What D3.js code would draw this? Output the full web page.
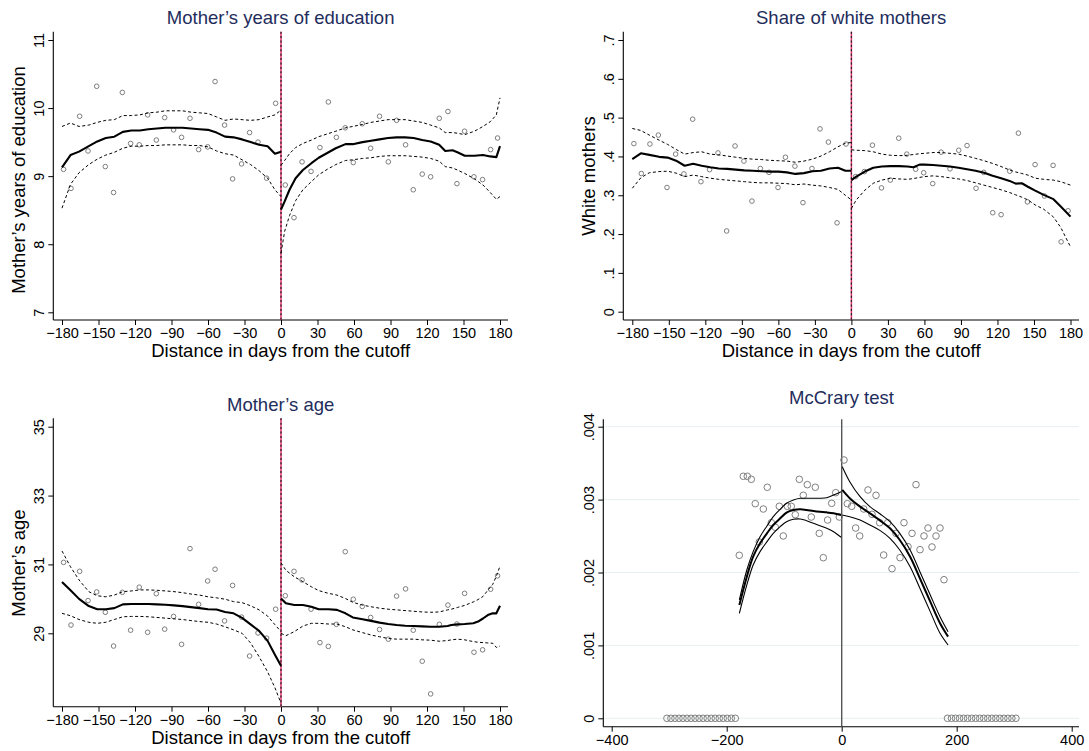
<!DOCTYPE html>
<html><head><meta charset="utf-8">
<script src="https://cdn.jsdelivr.net/npm/d3@7/dist/d3.min.js"></script>
<style>
body{margin:0;background:#fff}
svg{display:block}
text{font-family:"Liberation Sans",Arial,Helvetica,sans-serif}
</style>
</head><body>
<svg id="c" width="1089" height="751"></svg>
<script>
// ---------------- DATA ----------------
const xTicks = [-180,-150,-120,-90,-60,-30,0,30,60,90,120,150,180];
const xTickLabels = ["\u2212180","\u2212150","\u2212120","\u221290","\u221260","\u221230","0","30","60","90","120","150","180"];

const binXL = [-178.7,-172.6,-165.5,-158.6,-151.5,-144.4,-137.6,-130.4,-123.6,-116.5,-109.6,-102.5,-95.6,-88.3,-81.7,-74.8,-67.7,-60.3,-54.2,-46.4,-39.8,-32.4,-25.8,-18.9,-11.8,-4.4];
const binXR = [3.5,10.7,17.3,24.7,32.0,38.9,45.5,52.8,59.4,66.8,73.7,81.0,88.2,95.0,102.4,108.7,116.1,123.0,130.1,137.2,144.6,150.9,158.6,165.7,172.3,178.0];

// Panel 1: mother's years of education
const eduL = [9.10,8.82,9.88,9.37,10.32,9.14,8.76,10.23,9.48,9.46,9.90,9.53,9.86,9.68,9.57,9.85,9.39,9.43,10.39,9.75,8.96,9.18,9.64,9.50,8.97,10.07];
const eduR = [8.87,8.39,9.21,9.07,9.42,10.09,9.57,9.71,9.20,9.77,9.41,9.88,9.21,9.82,9.46,8.80,9.03,8.99,9.85,9.95,8.89,9.66,8.99,8.95,9.39,9.56];
const fitXL = [-180,-173,-166,-158,-151,-144,-137,-130,-123,-116,-109,-102,-95,-88,-81,-74,-67,-60,-53,-46,-39,-32,-25,-18,-11,-5,0];
const eduFitL = [9.13,9.31,9.36,9.44,9.51,9.56,9.58,9.65,9.67,9.67,9.69,9.70,9.71,9.71,9.71,9.70,9.69,9.68,9.64,9.58,9.57,9.54,9.50,9.46,9.44,9.33,9.36];
const eduHiL  = [9.73,9.78,9.73,9.75,9.79,9.82,9.83,9.89,9.89,9.90,9.93,9.94,9.96,9.96,9.96,9.94,9.93,9.92,9.87,9.82,9.84,9.83,9.82,9.83,9.87,9.90,9.97];
const eduLoL  = [8.53,8.88,9.05,9.17,9.25,9.31,9.35,9.41,9.44,9.44,9.45,9.45,9.46,9.46,9.46,9.45,9.45,9.43,9.37,9.33,9.31,9.24,9.17,9.08,8.97,8.80,8.70];
const eduXR = [0,3,7,12,18,25,31,38,45,53,59,67,74,81,88,95,102,109,116,123,130,135,141,145,151,159,166,172,177,180];
const eduFitR = [8.51,8.63,8.80,8.97,9.09,9.19,9.27,9.34,9.41,9.47,9.47,9.50,9.52,9.54,9.56,9.57,9.57,9.56,9.53,9.51,9.46,9.37,9.38,9.35,9.30,9.30,9.31,9.29,9.28,9.44];
const eduHiR  = [9.16,9.23,9.33,9.42,9.48,9.53,9.58,9.62,9.66,9.71,9.73,9.76,9.79,9.81,9.83,9.83,9.83,9.81,9.79,9.75,9.71,9.64,9.64,9.63,9.61,9.66,9.73,9.80,9.90,10.15];
const eduLoR  = [7.87,8.19,8.42,8.64,8.80,8.92,9.02,9.10,9.17,9.23,9.24,9.26,9.27,9.29,9.30,9.30,9.30,9.29,9.28,9.26,9.22,9.14,9.12,9.09,9.04,8.96,8.87,8.76,8.66,8.70];
const eduYTicks = [7,8,9,10,11];
const eduYLabels = ["7","8","9","10","11"];

// Panel 2: share of white mothers
const whiteL = [0.433,0.356,0.432,0.455,0.320,0.406,0.355,0.496,0.335,0.366,0.409,0.208,0.427,0.388,0.285,0.369,0.359,0.320,0.398,0.375,0.281,0.369,0.471,0.437,0.229,0.432];
const whiteR = [0.348,0.361,0.429,0.319,0.339,0.447,0.406,0.367,0.358,0.330,0.411,0.368,0.416,0.428,0.318,0.359,0.255,0.250,0.362,0.460,0.283,0.379,0.298,0.377,0.180,0.260];
const whiteFitL = [0.393,0.408,0.404,0.399,0.397,0.389,0.376,0.381,0.376,0.372,0.369,0.368,0.366,0.364,0.363,0.362,0.361,0.361,0.359,0.355,0.357,0.362,0.363,0.369,0.371,0.363,0.363];
const whiteHiL  = [0.472,0.467,0.455,0.442,0.431,0.418,0.406,0.410,0.412,0.406,0.404,0.401,0.398,0.395,0.393,0.392,0.390,0.389,0.388,0.385,0.388,0.393,0.401,0.412,0.425,0.434,0.436];
const whiteLoL  = [0.318,0.345,0.358,0.361,0.362,0.357,0.348,0.352,0.348,0.344,0.341,0.339,0.337,0.335,0.333,0.332,0.332,0.331,0.330,0.327,0.329,0.326,0.324,0.320,0.315,0.300,0.288];
const whiteXR = [0,4,11,18,25,32,39,46,51,56,60,67,74,81,88,95,102,109,116,123,130,135,140,145,151,158,166,172,180];
const whiteFitR = [0.339,0.348,0.361,0.371,0.374,0.375,0.375,0.374,0.372,0.379,0.379,0.378,0.376,0.374,0.371,0.367,0.363,0.358,0.350,0.344,0.337,0.330,0.331,0.322,0.312,0.301,0.290,0.271,0.245];
const whiteHiR  = [0.417,0.416,0.415,0.412,0.406,0.403,0.402,0.403,0.405,0.407,0.408,0.410,0.410,0.408,0.406,0.401,0.395,0.389,0.382,0.374,0.365,0.360,0.356,0.352,0.344,0.341,0.339,0.335,0.326];
const whiteLoR  = [0.266,0.288,0.313,0.331,0.339,0.344,0.342,0.341,0.343,0.346,0.348,0.350,0.348,0.345,0.342,0.338,0.332,0.326,0.320,0.314,0.307,0.301,0.295,0.288,0.275,0.264,0.244,0.217,0.167];
const whiteYTicks = [0,0.1,0.2,0.3,0.4,0.5,0.6,0.7];
const whiteYLabels = ["0",".1",".2",".3",".4",".5",".6",".7"];

// Panel 3: mother's age
const ageL = [31.06,29.24,30.80,29.95,30.20,29.61,28.63,30.19,29.09,30.34,29.03,30.15,29.12,29.49,28.68,31.46,29.84,30.52,30.86,29.36,30.39,29.47,28.34,29.01,28.86,29.70];
const ageR = [30.09,30.80,30.55,29.70,28.73,28.62,29.26,31.37,29.99,29.78,29.46,29.11,28.83,30.08,30.29,29.09,28.19,27.24,29.26,29.82,29.27,30.16,28.45,28.52,30.28,30.67];
const ageFitL = [30.49,30.25,30.00,29.79,29.70,29.70,29.73,29.84,29.85,29.85,29.85,29.84,29.83,29.81,29.79,29.76,29.73,29.70,29.69,29.62,29.58,29.45,29.26,29.07,28.78,28.38,28.06];
const ageHiL  = [31.39,30.93,30.55,30.21,30.09,30.06,30.11,30.21,30.23,30.26,30.26,30.25,30.23,30.21,30.18,30.14,30.11,30.06,30.03,29.99,29.92,29.89,29.80,29.68,29.50,29.25,29.05];
const ageLoL  = [29.58,29.51,29.40,29.32,29.29,29.32,29.40,29.48,29.49,29.49,29.48,29.46,29.44,29.42,29.40,29.37,29.34,29.32,29.27,29.19,29.10,29.00,28.72,28.32,27.88,27.42,26.97];
const ageXR = [0,4,11,18,25,31,39,46,53,59,67,74,81,88,95,102,109,116,123,130,137,140,145,151,158,162,166,170,174,177,180];
const ageFitR = [30.01,29.87,29.82,29.82,29.77,29.70,29.70,29.68,29.58,29.46,29.41,29.36,29.31,29.27,29.24,29.22,29.21,29.20,29.19,29.19,29.21,29.24,29.26,29.27,29.29,29.34,29.43,29.53,29.58,29.58,29.80];
const ageHiR  = [31.05,30.83,30.64,30.50,30.35,30.24,30.16,30.11,30.01,29.90,29.82,29.77,29.73,29.70,29.68,29.66,29.64,29.62,29.61,29.62,29.68,29.70,29.75,29.81,29.91,29.98,30.07,30.25,30.42,30.66,30.95];
const ageLoR  = [29.00,28.93,29.05,29.21,29.29,29.29,29.27,29.27,29.19,29.10,29.02,28.95,28.90,28.85,28.83,28.83,28.83,28.81,28.80,28.77,28.79,28.81,28.83,28.81,28.76,28.74,28.73,28.72,28.71,28.59,28.63];
const ageYTicks = [29,31,33,35];
const ageYLabels = ["29","31","33","35"];

// Panel 4: McCrary density test (density values in thousandths)
const mcBinL = [-178.1,-171.1,-164.2,-157.2,-150.3,-143.3,-136.3,-129.4,-122.4,-115.5,-108.5,-101.6,-94.6,-87.7,-80.7,-73.7,-66.8,-59.8,-52.9,-45.9,-39.0,-32.0,-24.5,-17.4,-10.4,-4.2];
const mcDenL = [2.236,3.320,3.320,3.278,2.944,2.418,2.871,3.169,2.683,2.620,2.908,2.501,2.908,2.908,2.793,3.278,3.059,3.205,2.761,3.169,2.537,2.203,2.720,2.949,3.095,2.761];
const mcBinR = [4.0,9.8,17.4,24.3,31.3,38.3,45.7,52.7,59.7,66.1,73.0,80.0,87.5,94.4,101.4,108.3,115.3,122.3,129.2,136.2,143.1,150.1,157.0,164.0,170.9,177.9];
const mcDenR = [3.543,2.944,2.908,2.610,2.501,2.871,3.132,2.798,3.059,2.683,2.240,2.683,2.052,2.537,2.203,2.683,2.354,2.537,3.205,2.313,2.501,2.610,2.350,2.501,2.610,1.901];
const mcZeroX = [-304,-297,-290,-283,-276,-269,-262,-255,-248,-241,-234,-227,-220,-213,-206,-199,-192,-185,
                 184,191,198,205,212,219,226,233,240,247,254,261,268,275,282,289,296,303];
const mcXL = [-178,-165,-154,-142,-130,-119,-107,-96,-84,-72,-61,-49,-38,-26,-14,-1];
const mcFitL = [1.554,1.943,2.217,2.400,2.537,2.652,2.743,2.821,2.857,2.867,2.857,2.844,2.834,2.825,2.812,2.789];
const mcHiL  = [1.623,2.034,2.286,2.491,2.638,2.766,2.867,2.949,2.995,3.018,3.018,3.018,3.018,3.026,3.063,3.109];
const mcLoL  = [1.440,1.829,2.103,2.286,2.423,2.537,2.629,2.697,2.730,2.734,2.711,2.675,2.642,2.606,2.560,2.483];
const mcXR = [1,14,32,49,67,84,101,119,136,154,171,185];
const mcFitR = [3.132,3.018,2.903,2.812,2.711,2.606,2.446,2.217,1.920,1.600,1.303,1.120];
const mcHiR  = [3.451,3.246,3.040,2.903,2.803,2.697,2.537,2.309,2.011,1.691,1.394,1.188];
const mcLoR  = [2.789,2.766,2.720,2.652,2.574,2.469,2.309,2.080,1.783,1.463,1.166,1.006];
const mcXTicks = [-400,-200,0,200,400];
const mcXLabels = ["\u2212400","\u2212200","0","200","400"];
const mcYTicks = [0,1,2,3,4];
const mcYLabels = ["0",".001",".002",".003",".004"];

// ---------------- DRAWING ----------------
const svg = d3.select("#c");
const TITLE_COL = "#1e2d5c";
const TICK_FS = "14.5px", TITLE_FS = "18.5px";

function series(g, x, y, xs, ys, opts) {
  const line = d3.line().x((d,i)=>x(xs[i])).y(d=>y(d)).curve(opts.curve || d3.curveLinear);
  g.append("path").attr("d", line(ys)).attr("fill","none")
    .attr("stroke","#000").attr("stroke-width", opts.w)
    .attr("stroke-dasharray", opts.dash || null)
    .attr("stroke-linejoin","round");
}
function dots(g, x, y, xs, ys, r, col) {
  g.selectAll(null).data(ys).enter().append("circle")
    .attr("cx",(d,i)=>x(xs[i])).attr("cy",d=>y(d)).attr("r",r)
    .attr("fill","none").attr("stroke",col).attr("stroke-width",1);
}
function axes(g, x, y, rect, xt, xl, yt, yl) {
  const ax = d3.axisBottom(x).tickValues(xt).tickFormat((d,i)=>xl[i]).tickSize(5).tickSizeOuter(0);
  const gx = g.append("g").attr("transform",`translate(0,${rect.b})`).call(ax);
  gx.select(".domain").remove();
  gx.selectAll("line").attr("stroke","#000").attr("stroke-width",1);
  gx.selectAll("text").attr("y",18.3).attr("dy",0).attr("font-size",TICK_FS).attr("fill","#000")
    .style("font-family",'"Liberation Sans",Arial,sans-serif');
  const ay = d3.axisLeft(y).tickValues(yt).tickFormat((d,i)=>yl[i]).tickSize(5).tickSizeOuter(0);
  const gy = g.append("g").attr("transform",`translate(${rect.l},0)`).call(ay);
  gy.select(".domain").remove();
  gy.selectAll("line").attr("stroke","#000").attr("stroke-width",1);
  gy.selectAll("text").attr("x",0).attr("dy",0).attr("text-anchor","middle")
    .attr("transform","translate(-9.8,0) rotate(-90)").attr("font-size",TICK_FS).attr("fill","#000")
    .style("font-family",'"Liberation Sans",Arial,sans-serif');
  g.append("line").attr("x1",rect.l).attr("x2",rect.r).attr("y1",rect.b).attr("y2",rect.b)
    .attr("stroke","#000").attr("stroke-width",1.1);
  g.append("line").attr("x1",rect.l).attr("x2",rect.l).attr("y1",rect.t).attr("y2",rect.b)
    .attr("stroke","#000").attr("stroke-width",1.1);
}
function titles(g, rect, title, ylab, ylabY, xlab) {
  const cx = (rect.l + rect.r)/2;
  g.append("text").attr("x",cx).attr("y",rect.t - 7.8).attr("text-anchor","middle")
    .attr("font-size",TITLE_FS).attr("fill",TITLE_COL).text(title);
  if (ylab) g.append("text").attr("transform",`translate(${rect.l-28.5},${ylabY}) rotate(-90)`)
    .attr("text-anchor","middle").attr("font-size",TITLE_FS).attr("fill","#000").text(ylab);
  if (xlab) g.append("text").attr("x",cx).attr("y",rect.b + 36.8).attr("text-anchor","middle")
    .attr("font-size",TITLE_FS).attr("fill","#000").text(xlab);
}

function rdPanel(cfg) {
  const g = svg.append("g");
  const rect = cfg.rect;
  const x = d3.scaleLinear().domain([-180,180]).range([cfg.x180[0], cfg.x180[1]]);
  const y = d3.scaleLinear().domain(cfg.yDom).range(cfg.yRange);
  axes(g, x, y, rect, xTicks, xTickLabels, cfg.yTicks, cfg.yLabels);
  titles(g, rect, cfg.title, cfg.ylab, cfg.ylabY, "Distance in days from the cutoff");
  // cutoff line
  g.append("line").attr("x1",x(0)).attr("x2",x(0)).attr("y1",rect.t).attr("y2",rect.b)
    .attr("stroke","#e2336e").attr("stroke-width",1.5);
  g.append("line").attr("x1",x(0)).attr("x2",x(0)).attr("y1",rect.t).attr("y2",rect.b)
    .attr("stroke","#222").attr("stroke-width",1.2).attr("stroke-dasharray","2,2.4");
  dots(g, x, y, binXL, cfg.ptsL, 2.3, "#7d7d7d");
  dots(g, x, y, binXR, cfg.ptsR, 2.3, "#7d7d7d");
  series(g, x, y, fitXL, cfg.hiL, {w:1, dash:"3,2.4"});
  series(g, x, y, fitXL, cfg.loL, {w:1, dash:"3,2.4"});
  series(g, x, y, cfg.xR, cfg.hiR, {w:1, dash:"3,2.4"});
  series(g, x, y, cfg.xR, cfg.loR, {w:1, dash:"3,2.4"});
  series(g, x, y, fitXL, cfg.fitL, {w:2.1});
  series(g, x, y, cfg.xR, cfg.fitR, {w:2.1});
}

rdPanel({
  rect:{l:53.3, r:508, t:31.7, b:320}, x180:[62,500],
  yDom:[7,11], yRange:[312.3,40], yTicks:eduYTicks, yLabels:eduYLabels,
  title:"Mother\u2019s years of education", ylab:"Mother\u2019s years of education", ylabY:180,
  ptsL:eduL, ptsR:eduR, fitL:eduFitL, hiL:eduHiL, loL:eduLoL,
  xR:eduXR, fitR:eduFitR, hiR:eduHiR, loR:eduLoR
});
rdPanel({
  rect:{l:623.3, r:1079, t:31.7, b:320}, x180:[632.3,1070.5],
  yDom:[0,0.7], yRange:[311.7,40], yTicks:whiteYTicks, yLabels:whiteYLabels,
  title:"Share of white mothers", ylab:"White mothers", ylabY:176,
  ptsL:whiteL, ptsR:whiteR, fitL:whiteFitL, hiL:whiteHiL, loL:whiteLoL,
  xR:whiteXR, fitR:whiteFitR, hiR:whiteHiR, loR:whiteLoR
});
rdPanel({
  rect:{l:53.3, r:508, t:418.3, b:706.7}, x180:[62,500],
  yDom:[29,35], yRange:[633.3,426.7], yTicks:ageYTicks, yLabels:ageYLabels,
  title:"Mother\u2019s age", ylab:"Mother\u2019s age", ylabY:563,
  ptsL:ageL, ptsR:ageR, fitL:ageFitL, hiL:ageHiL, loL:ageLoL,
  xR:ageXR, fitR:ageFitR, hiR:ageHiR, loR:ageLoR
});

// McCrary panel
(function(){
  const g = svg.append("g");
  const rect = {l:603.3, r:1079, t:419.3, b:726.7};
  const x = d3.scaleLinear().domain([-400,400]).range([611.7,1071.7]);
  const y = d3.scaleLinear().domain([0,4]).range([718.3,426.7]);
  // gridlines
  g.selectAll(null).data(mcYTicks).enter().append("line")
    .attr("x1",rect.l).attr("x2",rect.r).attr("y1",d=>y(d)).attr("y2",d=>y(d))
    .attr("stroke","#e6eff1").attr("stroke-width",1);
  axes(g, x, y, rect, mcXTicks, mcXLabels, mcYTicks, mcYLabels);
  titles(g, {l:603.3, r:1079.7, t:419.3-7.5, b:726.7}, "McCrary test", null, 0, null);
  g.append("line").attr("x1",x(0)).attr("x2",x(0)).attr("y1",rect.t).attr("y2",rect.b)
    .attr("stroke","#555").attr("stroke-width",1.4);
  dots(g, x, y, mcBinL, mcDenL, 3.3, "#808080");
  dots(g, x, y, mcBinR, mcDenR, 3.3, "#808080");
  dots(g, x, y, mcZeroX, mcZeroX.map(()=>0), 3.3, "#808080");
  const c = d3.curveCatmullRom;
  series(g, x, y, mcXL, mcHiL, {w:1.1, curve:c});
  series(g, x, y, mcXL, mcLoL, {w:1.1, curve:c});
  series(g, x, y, mcXL, mcFitL, {w:2, curve:c});
  series(g, x, y, mcXR, mcHiR, {w:1.1, curve:c});
  series(g, x, y, mcXR, mcLoR, {w:1.1, curve:c});
  series(g, x, y, mcXR, mcFitR, {w:2, curve:c});
})();
</script>
</body></html>
